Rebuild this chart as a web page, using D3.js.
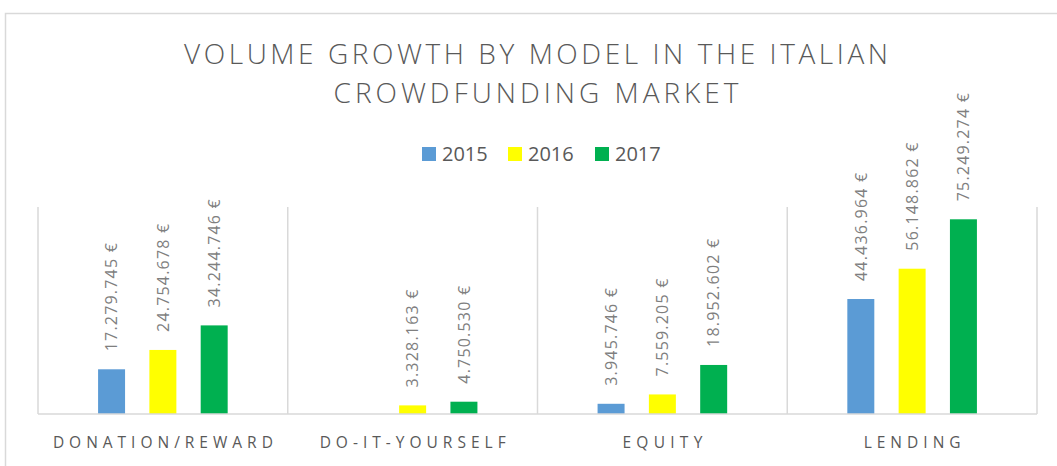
<!DOCTYPE html>
<html><head><meta charset="utf-8">
<script src="https://cdn.jsdelivr.net/npm/d3@7/dist/d3.min.js"></script>
<style>
html,body{margin:0;padding:0;background:#fff;}
svg{display:block;}
</style></head>
<body>
<svg id="chart" width="1057" height="466"></svg>
<script>
const titleLines = ["VOLUME GROWTH BY MODEL IN THE ITALIAN", "CROWDFUNDING MARKET"];
const categories = ["DONATION/REWARD", "DO-IT-YOURSELF", "EQUITY", "LENDING"];
const years = ["2015", "2016", "2017"];
const values2015 = [17279745, null, 3945746, 44436964];
const values2016 = [24754678, 3328163, 7559205, 56148862];
const values2017 = [34244746, 4750530, 18952602, 75249274];
const colors = ["#5b9bd5", "#ffff00", "#00b050"];
const yMax = 80000000;

const series = [values2015, values2016, values2017];
const svg = d3.select("#chart");
const W = 1057, H = 466;
const plotLeft = 38, plotRight = 1037, plotTop = 207, plotBottom = 414;
const font = "'Open Sans', 'DejaVu Sans', sans-serif";

// outer border (extends past right/bottom edge)
svg.append("rect").attr("x", 5.5).attr("y", 13.5).attr("width", W).attr("height", H)
  .attr("fill", "none").attr("stroke", "#d9d9d9").attr("stroke-width", 1.5);

const x0 = d3.scaleBand().domain(categories).range([plotLeft, plotRight]).padding(0);
const x1 = d3.scaleBand().domain(years).range([0, x0.bandwidth()])
  .paddingInner(0.474).paddingOuter(1.171);
const y = d3.scaleLinear().domain([0, yMax]).range([plotBottom, plotTop]);

// category separators
const seps = categories.map(c => x0(c)).concat([x0(categories[categories.length-1]) + x0.bandwidth()]);
svg.append("g").selectAll("line").data(seps).join("line")
  .attr("x1", d => d).attr("x2", d => d).attr("y1", plotTop).attr("y2", plotBottom)
  .attr("stroke", "#d9d9d9").attr("stroke-width", 1.5);

// bars
const flat = [];
categories.forEach((c, ci) => years.forEach((yr, si) => {
  const v = series[si][ci];
  if (v != null) flat.push({c, yr, si, v});
}));
svg.append("g").selectAll("rect").data(flat).join("rect")
  .attr("x", d => x0(d.c) + x1(d.yr))
  .attr("width", x1.bandwidth())
  .attr("y", d => y(d.v))
  .attr("height", d => y(0) - y(d.v))
  .attr("fill", d => colors[d.si]);

// baseline
svg.append("line").attr("x1", plotLeft).attr("x2", plotRight).attr("y1", plotBottom).attr("y2", plotBottom)
  .attr("stroke", "#d9d9d9").attr("stroke-width", 1.5);

// value labels
const fmt = v => d3.format(",")(v).replace(/,/g, ".") + " €";
svg.append("g").selectAll("text").data(flat).join("text")
  .attr("transform", d => `translate(${x0(d.c) + x1(d.yr) + x1.bandwidth()/2},${y(d.v) - 18}) rotate(-90)`)
  .attr("dy", "0.36em")
  .attr("font-family", font).attr("font-size", 16).attr("letter-spacing", 1.2)
  .attr("fill", "#7f7f7f")
  .text(d => fmt(d.v));

// category labels
const catWidths = {"DONATION/REWARD": 220, "DO-IT-YOURSELF": 186, "EQUITY": 80, "LENDING": 97};
svg.append("g").selectAll("text").data(categories).join("text")
  .attr("x", d => x0(d) + x0.bandwidth()/2 - catWidths[d]/2)
  .attr("y", 448)
  .attr("textLength", d => catWidths[d]).attr("lengthAdjust", "spacing")
  .attr("font-family", font).attr("font-size", 15.5)
  .attr("fill", "#595959")
  .text(d => d);

// title
const titleWidths = [704, 405];
const titleBase = [64, 103];
svg.append("g").selectAll("text").data(titleLines).join("text")
  .attr("x", (d, i) => 536 - titleWidths[i]/2)
  .attr("y", (d, i) => titleBase[i])
  .attr("textLength", (d, i) => titleWidths[i]).attr("lengthAdjust", "spacing")
  .attr("font-family", font).attr("font-weight", 300).attr("font-size", 28)
  .attr("fill", "#595959")
  .text(d => d);

// legend
const legendX = [422, 508, 595];
const lg = svg.append("g").selectAll("g").data(years).join("g")
  .attr("transform", (d, i) => `translate(${legendX[i]},0)`);
lg.append("rect").attr("x", 0).attr("y", 147).attr("width", 14).attr("height", 14)
  .attr("fill", (d, i) => colors[i]);
lg.append("text").attr("x", 20).attr("y", 161)
  .attr("font-family", font).attr("font-size", 20).attr("fill", "#595959")
  .text(d => d);
</script>
</body></html>
